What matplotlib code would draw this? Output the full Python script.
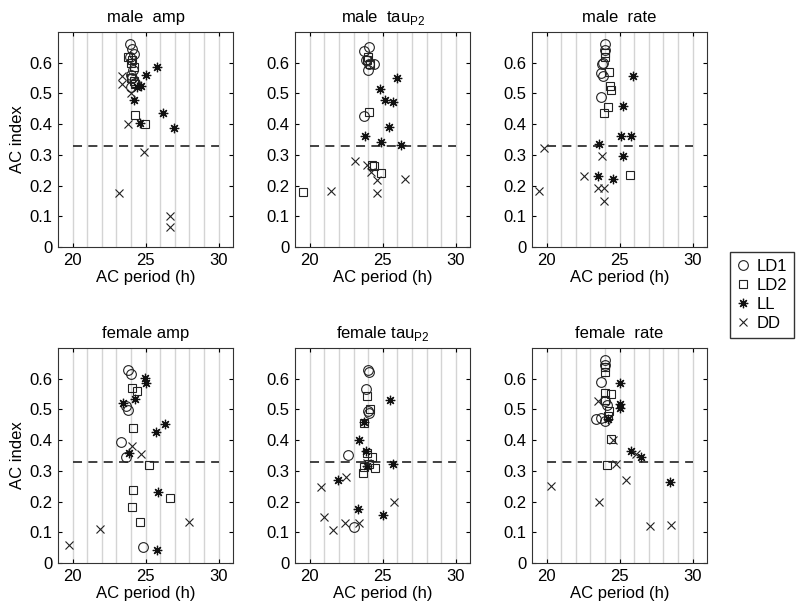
import matplotlib
matplotlib.use("Agg")
import matplotlib.pyplot as plt
from matplotlib.lines import Line2D

plt.rcParams['font.family'] = ['Liberation Sans', 'DejaVu Sans']

groups = ['LD1', 'LD2', 'LL', 'DD']
titles = ['male  amp', 'male  tau$_{\\mathregular{P2}}$', 'male  rate',
          'female amp', 'female tau$_{\\mathregular{P2}}$', 'female  rate']

# ---- male amp ----
ma_LD1_x = [23.9, 24.05, 24.2, 23.95, 24.0, 24.1, 24.3, 24.0, 24.15]
ma_LD1_y = [0.66, 0.645, 0.63, 0.62, 0.56, 0.55, 0.535, 0.52, 0.575]
ma_LD2_x = [23.8, 24.0, 24.1, 24.2, 24.0, 24.2, 24.25, 24.3, 24.95]
ma_LD2_y = [0.62, 0.60, 0.61, 0.585, 0.55, 0.54, 0.53, 0.43, 0.40]
ma_LL_x = [25.75, 25.0, 24.7, 24.4, 24.2, 26.2, 24.6, 26.95]
ma_LL_y = [0.587, 0.559, 0.524, 0.52, 0.48, 0.438, 0.405, 0.387]
ma_DD_x = [23.4, 23.35, 24.0, 23.8, 24.9, 23.2, 26.65, 26.65]
ma_DD_y = [0.557, 0.53, 0.50, 0.40, 0.309, 0.177, 0.101, 0.066]

# ---- male tau_P2 ----
mt_LD1_x = [24.03, 23.7, 23.87, 24.03, 24.38, 23.99, 23.69]
mt_LD1_y = [0.65, 0.639, 0.61, 0.595, 0.595, 0.577, 0.425]
mt_LD2_x = [24.0, 23.9, 24.1, 24.03, 24.38, 24.9, 19.54, 24.26]
mt_LD2_y = [0.62, 0.61, 0.595, 0.439, 0.263, 0.241, 0.18, 0.266]
mt_LL_x = [25.94, 24.84, 25.18, 25.69, 25.41, 23.8, 24.88, 26.27]
mt_LL_y = [0.55, 0.514, 0.48, 0.473, 0.39, 0.361, 0.342, 0.333]
mt_DD_x = [23.11, 23.92, 24.22, 24.6, 24.6, 26.52, 21.43]
mt_DD_y = [0.279, 0.268, 0.245, 0.218, 0.175, 0.223, 0.182]

# ---- male rate ----
mr_LD1_x = [24.01, 24.01, 23.85, 23.81, 23.7, 23.85, 23.7]
mr_LD1_y = [0.66, 0.643, 0.60, 0.595, 0.568, 0.557, 0.49]
mr_LD2_x = [24.01, 24.0, 24.24, 24.31, 24.43, 24.2, 23.92, 25.69]
mr_LD2_y = [0.633, 0.62, 0.57, 0.525, 0.51, 0.455, 0.435, 0.234]
mr_LL_x = [25.92, 25.23, 25.07, 25.8, 23.62, 25.23, 23.51, 24.54]
mr_LL_y = [0.557, 0.46, 0.363, 0.361, 0.336, 0.298, 0.231, 0.22]
mr_DD_x = [19.84, 19.5, 22.59, 23.81, 23.51, 23.9, 23.9]
mr_DD_y = [0.322, 0.182, 0.232, 0.298, 0.193, 0.191, 0.15]

# ---- female amp ----
fa_LD1_x = [23.82, 23.98, 23.64, 23.82, 23.3, 23.64, 24.82]
fa_LD1_y = [0.63, 0.617, 0.512, 0.499, 0.395, 0.346, 0.053]
fa_LD2_x = [24.09, 24.43, 24.16, 25.23, 24.14, 26.7, 24.05, 24.59]
fa_LD2_y = [0.571, 0.56, 0.44, 0.319, 0.239, 0.211, 0.184, 0.133]
fa_LL_x = [24.93, 25.0, 24.25, 23.48, 26.36, 25.68, 23.86, 25.84, 25.75]
fa_LL_y = [0.601, 0.587, 0.533, 0.52, 0.453, 0.426, 0.359, 0.23, 0.044]
fa_DD_x = [24.05, 24.66, 19.77, 21.89, 27.95]
fa_DD_y = [0.381, 0.354, 0.058, 0.112, 0.135]

# ---- female tau_P2 ----
ft_LD1_x = [23.99, 24.03, 23.87, 23.99, 24.03, 22.65, 23.04]
ft_LD1_y = [0.63, 0.622, 0.565, 0.495, 0.49, 0.352, 0.117]
ft_LD2_x = [23.92, 24.1, 23.69, 24.26, 24.49, 23.69, 23.64, 23.92, 24.03]
ft_LD2_y = [0.543, 0.50, 0.457, 0.344, 0.308, 0.311, 0.293, 0.357, 0.322]
ft_LL_x = [25.48, 23.69, 23.34, 23.87, 25.71, 21.91, 23.3, 25.02, 23.9]
ft_LL_y = [0.53, 0.459, 0.40, 0.365, 0.322, 0.271, 0.176, 0.157, 0.316]
ft_DD_x = [20.74, 22.49, 20.97, 21.57, 22.42, 23.34, 25.76, 23.9]
ft_DD_y = [0.248, 0.279, 0.15, 0.106, 0.131, 0.131, 0.198, 0.327]

# ---- female rate ----
fr_LD1_x = [24.01, 24.01, 23.74, 24.01, 23.39, 24.01, 23.74, 24.15]
fr_LD1_y = [0.66, 0.644, 0.588, 0.526, 0.47, 0.461, 0.472, 0.515]
fr_LD2_x = [24.01, 24.01, 24.01, 24.43, 24.27, 24.2, 24.38, 24.15, 24.0]
fr_LD2_y = [0.639, 0.623, 0.555, 0.549, 0.496, 0.48, 0.404, 0.319, 0.53]
fr_LL_x = [25.0, 25.0, 25.05, 24.2, 25.76, 26.45, 28.45]
fr_LL_y = [0.585, 0.517, 0.506, 0.47, 0.365, 0.345, 0.265]
fr_DD_x = [20.3, 23.62, 25.41, 24.77, 23.51, 24.54, 26.1, 27.1, 28.5]
fr_DD_y = [0.252, 0.2, 0.27, 0.322, 0.526, 0.402, 0.355, 0.12, 0.123]

panels = [
    [(ma_LD1_x, ma_LD1_y), (ma_LD2_x, ma_LD2_y), (ma_LL_x, ma_LL_y), (ma_DD_x, ma_DD_y)],
    [(mt_LD1_x, mt_LD1_y), (mt_LD2_x, mt_LD2_y), (mt_LL_x, mt_LL_y), (mt_DD_x, mt_DD_y)],
    [(mr_LD1_x, mr_LD1_y), (mr_LD2_x, mr_LD2_y), (mr_LL_x, mr_LL_y), (mr_DD_x, mr_DD_y)],
    [(fa_LD1_x, fa_LD1_y), (fa_LD2_x, fa_LD2_y), (fa_LL_x, fa_LL_y), (fa_DD_x, fa_DD_y)],
    [(ft_LD1_x, ft_LD1_y), (ft_LD2_x, ft_LD2_y), (ft_LL_x, ft_LL_y), (ft_DD_x, ft_DD_y)],
    [(fr_LD1_x, fr_LD1_y), (fr_LD2_x, fr_LD2_y), (fr_LL_x, fr_LL_y), (fr_DD_x, fr_DD_y)],
]

threshold = 0.33
xticks = [20, 25, 30]
yticks = [0, 0.1, 0.2, 0.3, 0.4, 0.5, 0.6]

styles = {
    'LD1': dict(marker='o', ms=7.0, mfc='none', mec='#222222', mew=0.8),
    'LD2': dict(marker='s', ms=6.0, mfc='none', mec='#222222', mew=0.8),
    'LL': dict(marker=(8, 2, 0), ms=6.8, mfc='none', mec='#111111', mew=0.9),
    'DD': dict(marker='x', ms=5.5, mfc='none', mec='#222222', mew=0.8),
}

fig = plt.figure(figsize=(8, 6.1), dpi=100)
lefts = [0.0725, 0.369, 0.665]
bottoms = [0.595, 0.077]
w, h = 0.219, 0.3525

for i, pdata in enumerate(panels):
    r, c = divmod(i, 3)
    ax = fig.add_axes([lefts[c], bottoms[r], w, h])
    ax.set_xlim(19, 31)
    ax.set_ylim(0, 0.7)
    for gx in range(20, 31):
        ax.axvline(gx, color='#d4d4d4', lw=1.0, zorder=0)
    ax.plot([20, 30], [threshold, threshold], ls=(0, (5, 3.5)), color='#333333', lw=1.3, zorder=1)
    for g, (xs, ys) in zip(groups, pdata):
        ax.plot(xs, ys, ls='none', zorder=3, **styles[g])
    ax.set_xticks(xticks)
    ax.set_yticks(yticks)
    ax.set_yticklabels(['0', '0.1', '0.2', '0.3', '0.4', '0.5', '0.6'])
    ax.tick_params(direction='in', top=True, right=True, labelsize=12, length=3, width=0.8, pad=4)
    for s in ax.spines.values():
        s.set_linewidth(0.8)
        s.set_color('#333333')
    ax.set_title(titles[i], fontsize=12, pad=7)
    ax.set_xlabel('AC period (h)', fontsize=12, labelpad=2)
    if c == 0:
        ax.set_ylabel('AC index', fontsize=12, labelpad=3)

handles = [Line2D([], [], ls='none', **styles[g]) for g in groups]
leg = fig.legend(handles, groups, loc='upper left', bbox_to_anchor=(0.912, 0.587),
                 frameon=True, fancybox=False, fontsize=12, handlelength=0.8,
                 handletextpad=0.4, borderpad=0.4, labelspacing=0.25, borderaxespad=0)
leg.get_frame().set_edgecolor('black')
leg.get_frame().set_linewidth(1.0)

fig.savefig('out.png', dpi=100)
